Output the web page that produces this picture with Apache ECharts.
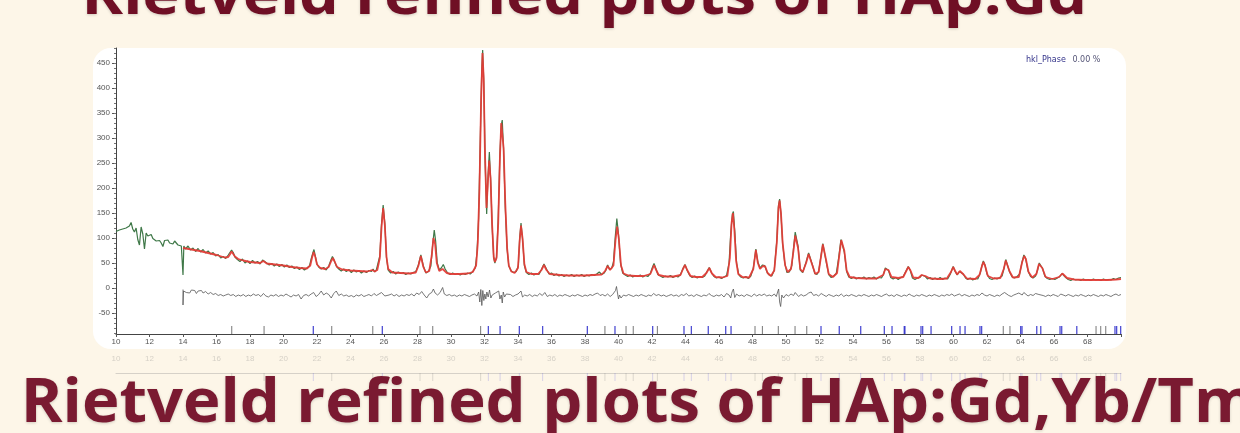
<!DOCTYPE html>
<html>
<head>
<meta charset="utf-8">
<title>Rietveld refined plots of HAp:Gd</title>
<script src="https://cdn.jsdelivr.net/npm/echarts@6/dist/echarts.min.js"></script>
<style>
  html, body { margin: 0; padding: 0; background: #fdf6e8; }
  #chart { width: 1240px; height: 433px; }
</style>
</head>
<body>
<div id="chart"></div>
<script>
// ---- titles and legend text ----
const topTitle = 'Rietveld refined plots of HAp:Gd';
const bottomTitle = 'Rietveld refined plots of HAp:Gd,Yb/Tm';
const phaseLabel = 'hkl_Phase';
const phaseValue = '0.00 %';

// ---- axis tick labels ----
const xTickLabels = [10,12,14,16,18,20,22,24,26,28,30,32,34,36,38,40,42,44,46,48,50,52,54,56,58,60,62,64,66,68];
const yTickLabels = [-50,0,50,100,150,200,250,300,350,400,450];
const yMinorTicks = [-90,-80,-70,-60,-50,-40,-30,-20,-10,0,10,20,30,40,50,60,70,80,90,100,110,120,130,140,150,160,170,180,190,200,210,220,230,240,250,260,270,280,290,300,310,320,330,340,350,360,370,380,390,400,410,420,430,440,450,460,470,480];

// ---- observed intensity [2theta, counts] ----
const observed = [
[10.0,113],[10.1,110],[10.2,116],[10.3,112],[10.4,118],[10.5,114],[10.6,120],[10.7,117],[10.8,124],[10.9,131],
[11.0,118],[11.1,112],[11.2,120],[11.3,97],[11.4,86],[11.5,122],[11.6,108],[11.7,78],[11.8,110],[11.9,104],
[12.0,100],[12.1,107],[12.2,99],[12.3,103],[12.4,94],[12.5,98],[12.6,95],[12.7,90],[12.8,83],[12.9,95],
[13.0,93],[13.1,96],[13.2,90],[13.3,92],[13.4,88],[13.5,94],[13.6,91],[13.7,86],[13.8,90],[13.9,84],
[13.95,86],[14.0,26],[14.05,84],[14.15,78],[14.3,84],[14.45,76],[14.6,80],[14.75,73],[14.9,79],[15.05,72],
[15.2,77],[15.35,70],[15.5,74],[15.65,68],[15.8,71],[15.95,64],[16.1,67],[16.25,60],[16.4,63],[16.55,59],
[16.7,66],[16.8,70],[16.9,76],[17.0,71],[17.1,62],[17.25,57],[17.4,53],[17.55,58],[17.7,50],[17.85,54],
[18.0,49],[18.15,55],[18.3,50],[18.45,53],[18.6,48],[18.75,56],[18.85,59],[19.0,50],[19.15,46],[19.3,49],
[19.45,44],[19.6,48],[19.75,43],[19.9,47],[20.05,42],[20.2,46],[20.35,41],[20.5,44],[20.65,39],[20.8,42],
[20.95,37],[21.1,41],[21.25,36],[21.4,40],[21.55,44],[21.65,58],[21.75,70],[21.82,77],[21.9,64],[22.0,48],
[22.1,42],[22.25,38],[22.4,41],[22.55,36],[22.7,44],[22.82,55],[22.92,63],[23.02,56],[23.15,44],[23.3,38],
[23.45,34],[23.6,38],[23.75,33],[23.9,37],[24.05,31],[24.2,36],[24.35,32],[24.5,35],[24.65,30],[24.8,34],
[24.95,31],[25.1,35],[25.25,33],[25.35,38],[25.45,32],[25.55,37],[25.65,41],[25.75,64],[25.85,128],[25.95,166],
[26.05,130],[26.15,60],[26.25,36],[26.4,30],[26.55,33],[26.7,28],[26.85,32],[27.0,29],[27.15,31],[27.3,27],
[27.45,30],[27.6,28],[27.75,31],[27.9,33],[28.05,46],[28.2,66],[28.35,44],[28.5,30],[28.65,33],[28.8,44],
[28.9,85],[29.0,116],[29.08,95],[29.18,50],[29.3,36],[29.42,40],[29.54,47],[29.65,38],[29.8,30],[29.95,27],
[30.1,30],[30.25,27],[30.4,29],[30.55,26],[30.7,29],[30.85,27],[31.0,30],[31.15,28],[31.3,33],[31.45,40],
[31.55,70],[31.65,140],[31.75,300],[31.83,430],[31.89,476],[31.96,410],[32.04,250],[32.13,148],[32.21,225],[32.29,272],
[32.37,215],[32.46,120],[32.55,60],[32.62,50],[32.72,62],[32.82,140],[32.92,270],[33.0,326],[33.06,336],[33.14,275],
[33.24,160],[33.35,78],[33.45,44],[33.6,34],[33.75,31],[33.9,33],[34.02,45],[34.1,100],[34.18,130],[34.27,98],
[34.38,45],[34.5,31],[34.65,27],[34.8,30],[34.95,26],[35.1,29],[35.25,27],[35.4,37],[35.55,48],[35.7,38],
[35.85,28],[36.0,30],[36.15,25],[36.3,28],[36.45,24],[36.6,27],[36.75,23],[36.9,26],[37.05,24],[37.2,27],
[37.35,23],[37.5,26],[37.65,24],[37.8,27],[37.95,23],[38.1,26],[38.25,24],[38.4,27],[38.55,25],[38.7,28],
[38.85,32],[39.0,27],[39.15,30],[39.25,36],[39.35,46],[39.47,37],[39.6,40],[39.7,52],[39.8,100],[39.9,139],
[40.0,108],[40.12,50],[40.25,30],[40.4,26],[40.55,23],[40.7,26],[40.85,22],[41.0,25],[41.15,23],[41.3,26],
[41.45,22],[41.6,25],[41.75,23],[41.9,29],[42.02,41],[42.12,49],[42.22,40],[42.35,27],[42.5,24],[42.65,21],
[42.8,24],[42.95,22],[43.1,25],[43.25,21],[43.4,24],[43.55,22],[43.7,27],[43.85,39],[43.97,47],[44.1,35],
[44.25,25],[44.4,21],[44.55,24],[44.7,20],[44.85,23],[45.0,21],[45.15,24],[45.28,33],[45.42,41],[45.56,30],
[45.7,23],[45.85,20],[46.0,22],[46.15,19],[46.3,22],[46.45,25],[46.6,50],[46.7,110],[46.8,148],[46.86,153],
[46.95,110],[47.05,50],[47.18,27],[47.3,22],[47.45,20],[47.6,23],[47.75,19],[47.9,24],[48.05,40],[48.2,78],
[48.32,52],[48.45,40],[48.6,46],[48.72,45],[48.88,31],[49.0,26],[49.15,24],[49.3,36],[49.45,95],[49.55,165],
[49.62,178],[49.7,148],[49.8,88],[49.92,52],[50.05,31],[50.2,32],[50.35,45],[50.45,80],[50.55,112],[50.62,116],
[50.72,84],[50.85,36],[51.0,31],[51.2,52],[51.35,70],[51.45,67],[51.58,46],[51.72,29],[51.85,27],[51.95,33],
[52.1,67],[52.2,89],[52.28,85],[52.4,52],[52.55,27],[52.7,21],[52.85,24],[53.0,29],[53.15,62],[53.28,97],
[53.37,101],[53.48,72],[53.62,33],[53.75,22],[53.9,19],[54.05,22],[54.2,18],[54.35,21],[54.5,19],[54.65,22],
[54.8,18],[54.95,21],[55.1,19],[55.25,22],[55.4,18],[55.55,21],[55.7,20],[55.82,27],[55.93,40],[56.02,44],
[56.12,35],[56.25,21],[56.4,18],[56.55,21],[56.7,17],[56.85,21],[57.0,23],[57.15,33],[57.3,43],[57.42,35],
[57.55,20],[57.7,17],[57.85,20],[58.0,21],[58.1,26],[58.2,28],[58.32,23],[58.45,18],[58.6,21],[58.75,17],
[58.9,20],[59.05,17],[59.2,21],[59.35,17],[59.5,20],[59.65,18],[59.8,27],[59.9,36],[59.98,43],[60.1,33],
[60.22,26],[60.35,33],[60.45,36],[60.58,28],[60.72,20],[60.85,17],[61.0,20],[61.15,16],[61.3,19],[61.45,18],
[61.6,30],[61.7,45],[61.78,54],[61.88,46],[62.0,28],[62.15,19],[62.3,17],[62.45,20],[62.6,18],[62.75,21],
[62.9,24],[63.02,40],[63.12,57],[63.22,53],[63.35,32],[63.5,22],[63.65,20],[63.8,23],[63.95,28],[64.08,50],
[64.2,66],[64.3,60],[64.45,34],[64.6,23],[64.75,20],[64.9,24],[65.02,36],[65.12,50],[65.2,52],[65.32,39],
[65.45,24],[65.6,19],[65.75,17],[65.9,19],[66.05,17],[66.2,20],[66.35,23],[66.48,29],[66.58,28],[66.7,21],
[66.85,17],[67.0,15],[67.15,18],[67.3,16],[67.45,17],[67.6,15],[67.75,18],[67.9,16],[68.05,17],[68.2,15],
[68.35,18],[68.5,16],[68.65,17],[68.8,15],[68.95,18],[69.1,16],[69.25,17],[69.4,16],[69.55,19],[69.7,17],
[69.85,20],[70.0,21]
];

// ---- calculated profile [2theta, counts] ----
const calculated = [
[14.0,80],[14.5,77],[15.0,74],[15.5,70],[16.0,66],[16.5,61],[16.7,62],[16.8,67],[16.9,73],[17.0,70],
[17.1,63],[17.3,58],[17.6,55],[18.0,52],[18.6,50],[18.8,54],[19.0,49],[19.5,47],[20.0,45],[20.5,42],
[21.0,40],[21.4,39],[21.6,45],[21.7,60],[21.8,72],[21.9,62],[22.0,47],[22.2,40],[22.5,38],[22.7,42],
[22.85,54],[22.95,60],[23.05,53],[23.2,42],[23.5,37],[24.0,35],[24.5,34],[25.0,33],[25.3,36],[25.45,33],
[25.6,36],[25.75,60],[25.85,120],[25.95,160],[26.05,125],[26.15,62],[26.25,38],[26.5,31],[27.0,30],[27.5,29],
[27.9,31],[28.05,44],[28.2,64],[28.35,42],[28.5,31],[28.7,34],[28.85,65],[28.95,100],[29.05,88],[29.15,50],
[29.3,34],[29.5,38],[29.6,37],[29.75,30],[30.0,28],[30.5,28],[31.0,29],[31.3,32],[31.5,45],[31.6,90],
[31.7,200],[31.8,380],[31.88,470],[31.95,420],[32.02,280],[32.12,160],[32.2,210],[32.28,255],[32.36,220],[32.45,130],
[32.55,62],[32.62,52],[32.72,60],[32.82,130],[32.92,260],[33.0,330],[33.06,333],[33.14,280],[33.24,170],[33.35,80],
[33.45,45],[33.6,33],[33.8,30],[34.0,40],[34.1,95],[34.18,125],[34.27,100],[34.38,48],[34.5,32],[34.8,28],
[35.2,28],[35.4,36],[35.55,46],[35.7,36],[35.9,28],[36.5,26],[37.0,25],[37.5,25],[38.0,25],[38.5,26],
[39.0,27],[39.2,34],[39.35,44],[39.5,36],[39.7,45],[39.82,95],[39.92,123],[40.02,98],[40.15,45],[40.3,29],
[40.6,25],[41.0,24],[41.5,24],[41.9,28],[42.05,40],[42.12,46],[42.22,38],[42.4,26],[42.8,23],[43.3,23],
[43.7,26],[43.85,38],[43.97,46],[44.1,36],[44.3,24],[44.6,22],[45.0,22],[45.25,30],[45.42,40],[45.58,29],
[45.8,22],[46.2,21],[46.5,24],[46.65,60],[46.75,130],[46.83,150],[46.92,115],[47.02,55],[47.15,28],[47.4,22],
[47.8,21],[48.05,38],[48.2,76],[48.32,50],[48.45,38],[48.62,44],[48.76,43],[48.9,30],[49.1,24],[49.3,35],
[49.45,90],[49.55,160],[49.62,175],[49.7,150],[49.8,90],[49.95,45],[50.1,32],[50.3,38],[50.45,75],[50.55,105],
[50.62,107],[50.72,80],[50.85,38],[51.0,32],[51.2,50],[51.35,68],[51.45,66],[51.58,45],[51.75,28],[51.95,32],
[52.1,65],[52.2,87],[52.28,86],[52.4,55],[52.55,28],[52.8,22],[53.05,30],[53.2,70],[53.3,96],[53.38,99],
[53.48,75],[53.62,35],[53.8,22],[54.2,20],[54.8,19],[55.4,19],[55.8,26],[55.93,38],[56.02,42],[56.12,36],
[56.3,22],[56.7,20],[57.0,22],[57.15,32],[57.3,42],[57.42,36],[57.6,21],[57.9,20],[58.1,26],[58.2,28],
[58.32,24],[58.6,19],[59.2,18],[59.6,19],[59.85,32],[59.98,42],[60.1,34],[60.22,27],[60.38,34],[60.48,35],
[60.6,27],[60.8,19],[61.3,18],[61.55,26],[61.7,44],[61.78,52],[61.88,45],[62.05,24],[62.4,19],[62.8,20],
[63.0,38],[63.12,55],[63.22,52],[63.35,33],[63.55,21],[63.9,22],[64.1,52],[64.22,64],[64.32,58],[64.48,32],
[64.7,21],[64.95,28],[65.1,48],[65.18,51],[65.3,40],[65.5,22],[65.9,18],[66.3,22],[66.5,29],[66.6,28],
[66.78,20],[67.2,17],[67.8,16],[68.5,16],[69.2,16],[69.7,17],[70.0,18]
];

// ---- difference curve (offset below zero) [2theta, counts] ----
const difference = [
[14.0,-3],[14.0,-34],[14.03,-6],[14.1,-4],[14.2,-9],[14.3,-5],[14.4,-10],[14.5,-4],[14.6,-8],[14.7,-5],
[14.8,-11],[14.9,-6],[15.0,-9],[15.1,-5],[15.2,-10],[15.35,-7],[15.5,-12],[15.65,-9],[15.8,-13],[15.95,-11],
[16.1,-15],[16.25,-13],[16.4,-16],[16.55,-14],[16.7,-12],[16.85,-15],[17.0,-13],[17.15,-17],[17.3,-14],[17.45,-16],
[17.6,-13],[17.75,-17],[17.9,-14],[18.05,-16],[18.2,-12],[18.35,-15],[18.5,-13],[18.65,-17],[18.8,-11],[18.95,-16],
[19.1,-18],[19.25,-14],[19.4,-16],[19.55,-13],[19.7,-17],[19.85,-14],[20.0,-16],[20.15,-12],[20.3,-15],[20.45,-18],
[20.6,-14],[20.75,-16],[20.9,-13],[21.05,-22],[21.2,-15],[21.35,-13],[21.5,-16],[21.65,-12],[21.8,-9],[21.95,-17],
[22.1,-13],[22.25,-6],[22.4,-14],[22.55,-10],[22.7,-13],[22.85,-20],[23.0,-11],[23.15,-6],[23.3,-15],[23.45,-12],
[23.6,-16],[23.75,-14],[23.9,-17],[24.05,-15],[24.2,-18],[24.35,-14],[24.5,-16],[24.65,-13],[24.8,-17],[24.95,-15],
[25.1,-13],[25.25,-16],[25.4,-11],[25.55,-15],[25.7,-12],[25.85,-9],[25.95,-12],[26.05,-16],[26.15,-19],[26.3,-14],
[26.45,-12],[26.6,-16],[26.75,-13],[26.9,-17],[27.05,-14],[27.2,-16],[27.35,-13],[27.5,-15],[27.65,-12],[27.8,-16],
[27.95,-10],[28.1,-13],[28.25,-7],[28.4,-14],[28.55,-20],[28.7,-12],[28.85,-9],[28.95,-2],[29.05,-10],[29.2,-14],
[29.35,-9],[29.5,1],[29.6,-12],[29.75,-15],[29.9,-13],[30.05,-16],[30.2,-14],[30.35,-17],[30.5,-14],[30.65,-16],
[30.8,-13],[30.95,-15],[31.1,-17],[31.25,-14],[31.4,-12],[31.55,-16],[31.65,-8],[31.72,-28],[31.78,-3],[31.84,-35],
[31.9,-5],[31.96,-25],[32.02,-12],[32.08,-22],[32.14,-8],[32.22,-18],[32.3,-4],[32.38,-20],[32.46,-14],[32.55,-17],
[32.65,-10],[32.75,-13],[32.85,-6],[32.92,-22],[33.0,-14],[33.06,-30],[33.12,-8],[33.2,-18],[33.3,-12],[33.4,-16],
[33.55,-13],[33.7,-17],[33.85,-14],[34.0,-12],[34.1,-16],[34.18,-6],[34.27,-18],[34.4,-14],[34.55,-16],[34.7,-13],
[34.85,-17],[35.0,-14],[35.15,-16],[35.3,-11],[35.45,-15],[35.6,-9],[35.75,-17],[35.9,-14],[36.05,-16],[36.2,-13],
[36.35,-17],[36.5,-14],[36.65,-16],[36.8,-13],[36.95,-15],[37.1,-17],[37.25,-14],[37.4,-16],[37.55,-13],[37.7,-15],
[37.85,-17],[38.0,-14],[38.15,-16],[38.3,-13],[38.45,-15],[38.6,-12],[38.75,-10],[38.9,-15],[39.05,-13],[39.2,-16],
[39.35,-12],[39.5,-17],[39.65,-13],[39.75,-16],[39.82,-5],[39.88,3],[39.94,-10],[40.0,-22],[40.06,-14],[40.15,-20],
[40.3,-14],[40.45,-16],[40.6,-13],[40.75,-15],[40.9,-17],[41.05,-14],[41.2,-16],[41.35,-13],[41.5,-15],[41.65,-17],
[41.8,-14],[41.95,-16],[42.1,-11],[42.25,-15],[42.4,-13],[42.55,-16],[42.7,-14],[42.85,-17],[43.0,-15],[43.15,-13],
[43.3,-16],[43.45,-14],[43.6,-17],[43.75,-13],[43.9,-15],[44.05,-11],[44.2,-16],[44.35,-14],[44.5,-17],[44.65,-13],
[44.8,-15],[44.95,-17],[45.1,-14],[45.25,-16],[45.4,-11],[45.55,-15],[45.7,-17],[45.85,-14],[46.0,-16],[46.15,-13],
[46.3,-18],[46.45,-11],[46.6,-14],[46.7,-20],[46.78,-8],[46.86,-2],[46.94,-19],[47.05,-12],[47.2,-16],[47.35,-14],
[47.5,-17],[47.65,-13],[47.8,-15],[47.95,-17],[48.1,-12],[48.25,-16],[48.4,-13],[48.55,-15],[48.7,-12],[48.85,-16],
[49.0,-14],[49.15,-16],[49.3,-12],[49.42,-17],[49.5,-8],[49.56,-2],[49.62,-28],[49.68,-37],[49.75,-14],[49.85,-20],
[50.0,-13],[50.15,-16],[50.3,-12],[50.45,-15],[50.55,-9],[50.65,-6],[50.75,-17],[50.9,-13],[51.05,-16],[51.2,-14],
[51.35,-10],[51.5,-8],[51.65,-15],[51.8,-13],[51.95,-16],[52.1,-11],[52.25,-14],[52.4,-17],[52.55,-13],[52.7,-15],
[52.85,-17],[53.0,-14],[53.15,-16],[53.3,-12],[53.45,-17],[53.6,-14],[53.75,-16],[53.9,-13],[54.05,-15],[54.2,-17],
[54.35,-14],[54.5,-16],[54.65,-13],[54.8,-15],[54.95,-17],[55.1,-14],[55.25,-16],[55.4,-13],[55.55,-15],[55.7,-17],
[55.85,-14],[56.0,-12],[56.15,-16],[56.3,-14],[56.45,-17],[56.6,-13],[56.75,-15],[56.9,-17],[57.05,-14],[57.2,-16],
[57.35,-12],[57.5,-15],[57.65,-17],[57.8,-14],[57.95,-16],[58.1,-13],[58.25,-15],[58.4,-17],[58.55,-14],[58.7,-16],
[58.85,-13],[59.0,-15],[59.15,-17],[59.3,-14],[59.45,-16],[59.6,-13],[59.75,-15],[59.9,-12],[60.05,-16],[60.2,-14],
[60.35,-12],[60.5,-16],[60.65,-13],[60.8,-15],[60.95,-17],[61.1,-14],[61.25,-16],[61.4,-13],[61.55,-15],[61.7,-10],
[61.85,-14],[62.0,-16],[62.15,-13],[62.3,-15],[62.45,-17],[62.6,-14],[62.75,-16],[62.9,-12],[63.05,-9],[63.15,-13],
[63.3,-15],[63.45,-17],[63.6,-14],[63.75,-12],[63.9,-10],[64.0,-8],[64.1,-14],[64.2,-9],[64.3,-12],[64.45,-16],
[64.6,-13],[64.75,-15],[64.9,-11],[65.0,-9],[65.1,-13],[65.2,-11],[65.35,-15],[65.5,-17],[65.65,-14],[65.8,-16],
[65.95,-13],[66.1,-15],[66.25,-17],[66.4,-12],[66.55,-14],[66.7,-16],[66.85,-13],[67.0,-15],[67.15,-17],[67.3,-14],
[67.45,-16],[67.6,-13],[67.75,-15],[67.9,-17],[68.05,-14],[68.2,-16],[68.35,-13],[68.5,-15],[68.65,-17],[68.8,-14],
[68.95,-16],[69.1,-13],[69.25,-15],[69.4,-17],[69.55,-14],[69.7,-12],[69.85,-15],[70.0,-13]
];

// ---- Bragg reflection positions (2theta) ----
const braggGray = [16.91,18.84,22.88,25.33,28.15,28.91,31.77,39.19,40.45,40.88,42.32,48.15,48.59,49.54,50.54,51.24,62.97,63.37,68.51,68.79,69.09];
const braggBlue = [21.78,25.90,32.23,32.93,34.08,35.47,38.14,39.79,42.04,43.91,44.35,45.36,46.40,46.72,52.09,53.18,54.46,55.87,56.33,57.06,57.10,58.06,58.16,58.66,59.89,60.39,60.69,61.58,61.68,64.01,64.09,64.97,65.21,66.36,66.46,67.36,69.64,69.74,69.98];

// ---- layout helpers ----
const measureCtx = document.createElement('canvas').getContext('2d');
function fitText(str, font, inkLeft, inkRight) {
  measureCtx.font = font;
  const m = measureCtx.measureText(str);
  const inkW = m.actualBoundingBoxLeft + m.actualBoundingBoxRight;
  const s = (inkRight - inkLeft) / inkW;
  return { scaleX: s, x: inkLeft + m.actualBoundingBoxLeft * s };
}

const titleFamily = '"Open Sans", "Noto Sans", sans-serif';
const topSize = 58, bottomSize = 60;
const topFit = fitText(topTitle, 'bold ' + topSize + 'px ' + titleFamily, 87, 1083);
const bottomFit = fitText(bottomTitle, 'bold ' + bottomSize + 'px ' + titleFamily, 26, 1252);

const chart = echarts.init(document.getElementById('chart'), null, { renderer: 'canvas' });

const axisFont = { fontFamily: '"Liberation Sans", Arial, sans-serif', fontSize: 8, color: '#555' };

const option = {
  backgroundColor: '#fdf6e8',
  animation: false,
  graphic: {
    elements: [
      {
        type: 'rect', z: -100, silent: true,
        shape: { x: 93, y: 48, width: 1033, height: 301, r: 18 },
        style: { fill: '#ffffff' }
      },
      {
        type: 'text', z: 100, silent: true,
        x: topFit.x, y: -3, scaleX: topFit.scaleX,
        style: {
          text: topTitle, fill: '#6f0f25',
          font: 'bold ' + topSize + 'px ' + titleFamily,
          verticalAlign: 'middle', align: 'left',
          textShadowColor: 'rgba(0,0,0,0.18)', textShadowBlur: 3, textShadowOffsetY: 1
        }
      },
      {
        type: 'text', z: 100, silent: true,
        x: bottomFit.x, y: 405, scaleX: bottomFit.scaleX,
        style: {
          text: bottomTitle, fill: '#7a1a31',
          font: 'bold ' + bottomSize + 'px ' + titleFamily,
          verticalAlign: 'middle', align: 'left',
          textShadowColor: 'rgba(0,0,0,0.18)', textShadowBlur: 3, textShadowOffsetY: 1
        }
      },
      {
        type: 'text', z: 50, silent: true,
        x: 1026, y: 60,
        style: {
          text: '{a|' + phaseLabel + '}  {b|' + phaseValue + '}',
          verticalAlign: 'middle',
          rich: {
            a: { fontFamily: '"DejaVu Sans", sans-serif', fontSize: 8, fill: '#33338a' },
            b: { fontFamily: '"DejaVu Sans", sans-serif', fontSize: 8, fill: '#555577' }
          }
        }
      }
    ]
  },
  grid: [
    { left: 116, width: 1005, top: 48, height: 286, containLabel: false },
    { left: 116, width: 1005, top: 373, height: 10, containLabel: false }
  ],
  xAxis: [
    {
      type: 'value', gridIndex: 0, min: 10, max: 70, interval: 2,
      axisLine: { onZero: false, lineStyle: { color: '#444', width: 1 } },
      axisTick: { show: true, length: 3, lineStyle: { color: '#555' } },
      axisLabel: Object.assign({ margin: 4, customValues: xTickLabels }, axisFont),
      splitLine: { show: false }
    },
    {
      type: 'value', gridIndex: 1, min: 10, max: 70, interval: 2, position: 'top',
      axisLine: { onZero: false, lineStyle: { color: 'rgba(140,140,140,0.35)', width: 1 } },
      axisTick: { show: false },
      axisLabel: Object.assign({}, axisFont, { color: 'rgba(120,120,120,0.3)', margin: 10, customValues: xTickLabels }),
      splitLine: { show: false }
    }
  ],
  yAxis: [
    {
      type: 'value', gridIndex: 0, min: -92, max: 480,
      axisLine: { show: true, onZero: false, lineStyle: { color: '#444', width: 1 } },
      axisTick: { show: true, length: 4, customValues: yTickLabels, lineStyle: { color: '#555' } },
      axisLabel: Object.assign({ margin: 6, customValues: yTickLabels }, axisFont),
      splitLine: { show: false }
    },
    {
      type: 'value', gridIndex: 0, min: -92, max: 480, position: 'left',
      axisLine: { show: false },
      axisTick: { show: true, length: 2, customValues: yMinorTicks, lineStyle: { color: '#777' } },
      axisLabel: { show: false },
      splitLine: { show: false }
    },
    {
      type: 'value', gridIndex: 1, min: 0, max: 10,
      axisLine: { show: false }, axisTick: { show: false }, axisLabel: { show: false },
      splitLine: { show: false }
    }
  ],
  series: [
    {
      name: 'Yobs', type: 'line', xAxisIndex: 0, yAxisIndex: 0, data: observed,
      showSymbol: false, z: 3,
      lineStyle: { color: '#3f7848', width: 1.2 }
    },
    {
      name: 'Ycalc', type: 'line', xAxisIndex: 0, yAxisIndex: 0, data: calculated,
      showSymbol: false, z: 4,
      lineStyle: { color: '#e53a35', width: 1.8, opacity: 0.92 }
    },
    {
      name: 'Yobs-Ycalc', type: 'line', xAxisIndex: 0, yAxisIndex: 0, data: difference,
      showSymbol: false, z: 3,
      lineStyle: { color: '#555', width: 0.8 }
    },
    {
      name: 'hkl gray', type: 'scatter', xAxisIndex: 0, yAxisIndex: 0,
      data: braggGray.map(v => [v, -84]),
      symbol: 'rect', symbolSize: [1, 8], z: 5,
      itemStyle: { color: '#555' }
    },
    {
      name: 'hkl blue', type: 'scatter', xAxisIndex: 0, yAxisIndex: 0,
      data: braggBlue.map(v => [v, -84]),
      symbol: 'rect', symbolSize: [1.3, 8], z: 5,
      itemStyle: { color: '#2323c8' }
    },
    {
      name: 'hkl gray faint', type: 'scatter', xAxisIndex: 1, yAxisIndex: 2,
      data: braggGray.map(v => [v, 6]),
      symbol: 'rect', symbolSize: [1, 8], z: 1,
      itemStyle: { color: 'rgba(120,120,120,0.3)' }
    },
    {
      name: 'hkl blue faint', type: 'scatter', xAxisIndex: 1, yAxisIndex: 2,
      data: braggBlue.map(v => [v, 6]),
      symbol: 'rect', symbolSize: [1, 8], z: 1,
      itemStyle: { color: 'rgba(60,60,220,0.25)' }
    }
  ]
};

chart.setOption(option);
</script>
</body>
</html>
